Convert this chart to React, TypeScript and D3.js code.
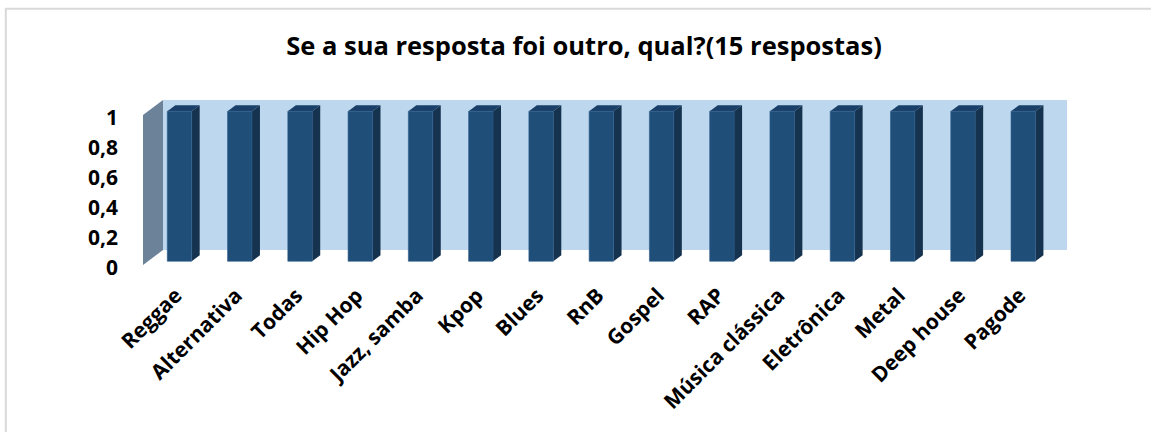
import React from "react";
import * as d3 from "d3";

const categories = [
  "Reggae", "Alternativa", "Todas", "Hip Hop", "Jazz, samba", "Kpop", "Blues", "RnB",
  "Gospel", "RAP", "Música clássica", "Eletrônica", "Metal", "Deep house", "Pagode",
];
const values = [1, 1, 1, 1, 1, 1, 1, 1, 1, 1, 1, 1, 1, 1, 1];
const yTicks = [0, 0.2, 0.4, 0.6, 0.8, 1];
const tickLabels = ["0", "0,2", "0,4", "0,6", "0,8", "1"];
const title = "Se a sua resposta foi outro, qual?(15 respostas)";

const W = 1151;
const H = 432;
const DX = 20; // depth projection
const DY = -15;
const FONT = "'Open Sans', 'Liberation Sans', sans-serif";

export default function App() {
  const x = d3.scaleBand<string>().domain(categories).range([143, 1047]).padding(0);
  const y = d3.scaleLinear().domain([0, 1]).range([265, 115]);
  const proj = (px: number, py: number, z: number): [number, number] => [px + DX * z, py + DY * z];
  const pts = (arr: [number, number][]) => arr.map((p) => p.join(",")).join(" ");

  const step = x.bandwidth();
  const zf = 0.25;
  const zb = 0.65;
  const left0 = x.range()[0];
  const right0 = x.range()[1];

  return (
    <svg width={W} height={H} style={{ position: "absolute", left: 0, top: 0, background: "#fff" }}>
      <rect x={0} y={0} width={W} height={H} fill="#fff" />
      <line x1={5.8} y1={8} x2={5.8} y2={H} stroke="#d9d9d9" strokeWidth={2} />
      <line x1={5} y1={8.8} x2={W} y2={8.8} stroke="#d9d9d9" strokeWidth={2} />
      <text x={584} y={55} textAnchor="middle" fontFamily={FONT} fontWeight="bold" fontSize={25.5} fill="#000">
        {title}
      </text>
      {/* back wall */}
      <polygon
        points={pts([proj(left0, y(0), 1), proj(right0, y(0), 1), proj(right0, y(1), 1), proj(left0, y(1), 1)])}
        fill="#BDD7EE"
      />
      {/* left side wall */}
      <polygon
        points={pts([proj(left0, y(0), 0), proj(left0, y(0), 1), proj(left0, y(1), 1), proj(left0, y(1), 0)])}
        fill="#6B8299"
      />
      {/* y labels */}
      {yTicks.map((t, i) => (
        <text key={t} x={118} y={y(t) + 2} textAnchor="end" dominantBaseline="central" fontFamily={FONT} fontWeight="bold" fontSize={21} fill="#000">
          {tickLabels[i]}
        </text>
      ))}
      {/* bars */}
      {categories.map((c, i) => {
        const bx0 = (x(c) as number) + step * 0.32;
        const bx1 = bx0 + step * 0.405;
        const v = values[i];
        const top = y(v);
        const bot = y(0);
        const fTL = proj(bx0, top, zf);
        const fTR = proj(bx1, top, zf);
        const fBR = proj(bx1, bot, zf);
        const fBL = proj(bx0, bot, zf);
        const bTL = proj(bx0, top, zb);
        const bTR = proj(bx1, top, zb);
        const bBR = proj(bx1, bot, zb);
        return (
          <g key={c}>
            <polygon points={pts([fTR, bTR, bBR, fBR])} fill="#15324F" />
            <polygon points={pts([fTL, bTL, bTR, fTR])} fill="#1A4069" />
            <polygon points={pts([fTL, fTR, fBR, fBL])} fill="#1F4E79" stroke="#2b5d8c" strokeWidth={0.6} />
          </g>
        );
      })}
      {/* category labels */}
      {categories.map((c) => {
        const cx = (x(c) as number) + step * 0.32 + step * 0.2 + 9;
        const cy = 297;
        return (
          <text key={c} x={cx} y={cy} textAnchor="end" transform={`rotate(-45 ${cx} ${cy})`} fontFamily={FONT} fontWeight="bold" fontSize={21} fill="#000">
            {c}
          </text>
        );
      })}
    </svg>
  );
}
